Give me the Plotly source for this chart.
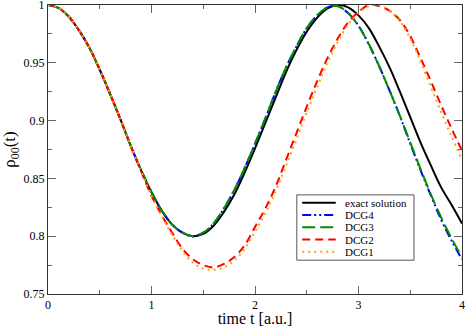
import plotly.graph_objects as go

t = [round(0.1 * i, 1) for i in range(41)]

exact = [1.000, 0.9975, 0.990, 0.978, 0.963, 0.944, 0.923, 0.901, 0.878, 0.857,
         0.838, 0.822, 0.810, 0.803, 0.800, 0.802, 0.809, 0.821, 0.836, 0.855,
         0.876, 0.898, 0.920, 0.942, 0.961, 0.977, 0.989, 0.997, 1.000, 0.998,
         0.991, 0.980, 0.964, 0.946, 0.925, 0.903, 0.881, 0.861, 0.842, 0.827,
         0.811]

dcg4 = [1.000, 0.9975, 0.990, 0.978, 0.963, 0.944, 0.923, 0.901, 0.878, 0.857,
        0.838, 0.822, 0.810, 0.803, 0.800, 0.803, 0.811, 0.824, 0.840, 0.859,
        0.880, 0.902, 0.925, 0.946, 0.964, 0.980, 0.991, 0.998, 0.999, 0.993,
        0.982, 0.966, 0.947, 0.926, 0.904, 0.880, 0.857, 0.835, 0.814, 0.796,
        0.780]

dcg3 = [1.000, 0.9975, 0.990, 0.978, 0.963, 0.944, 0.923, 0.901, 0.878, 0.857,
        0.838, 0.822, 0.810, 0.803, 0.800, 0.803, 0.811, 0.824, 0.840, 0.859,
        0.880, 0.902, 0.925, 0.946, 0.964, 0.980, 0.991, 0.998, 0.999, 0.993,
        0.982, 0.966, 0.947, 0.926, 0.904, 0.881, 0.858, 0.836, 0.816, 0.798,
        0.782]

dcg2 = [1.000, 0.9975, 0.990, 0.978, 0.963, 0.944, 0.923, 0.901, 0.878, 0.856,
        0.835, 0.818, 0.803, 0.789, 0.780, 0.775, 0.773, 0.776, 0.782, 0.792,
        0.808, 0.824, 0.843, 0.866, 0.889, 0.912, 0.934, 0.954, 0.971, 0.985,
        0.994, 1.000, 0.999, 0.995, 0.987, 0.973, 0.954, 0.934, 0.913, 0.893,
        0.874]

dcg1 = [1.000, 0.9975, 0.990, 0.978, 0.963, 0.944, 0.923, 0.901, 0.878, 0.856,
        0.835, 0.817, 0.801, 0.787, 0.777, 0.772, 0.771, 0.773, 0.779, 0.789,
        0.804, 0.820, 0.839, 0.861, 0.884, 0.907, 0.929, 0.950, 0.968, 0.983,
        0.993, 0.999, 1.000, 0.995, 0.986, 0.971, 0.951, 0.929, 0.907, 0.886,
        0.866]

x_ticks = [0, 1, 2, 3, 4]
y_ticks = [0.75, 0.8, 0.85, 0.9, 0.95, 1.0]
y_ticktext = ["0.75", "0.8", "0.85", "0.9", "0.95", "1"]

names = ["exact solution", "DCG4", "DCG3", "DCG2", "DCG1"]
series = [exact, dcg4, dcg3, dcg2, dcg1]
colors = ["#000000", "#0000ff", "#008c00", "#ff0000", "#ffa500"]
dashes = ["solid", "9px,3px,2px,3px,2px,3px", "13px,5px", "8px,5px", "2px,4px"]

FONT = "Liberation Serif, Times New Roman, serif"

fig = go.Figure()
for name, y, c, d in zip(names, series, colors, dashes):
    fig.add_trace(go.Scatter(x=t, y=y, mode="lines", name=name,
                             line=dict(color=c, width=2, dash=d, shape="spline"),
                             showlegend=False))

# legend drawn by hand (xmgrace style, tight rows)
x0, x1 = 0.601, 0.884
ytop, ybot = 0.343, 0.117
fig.add_shape(type="rect", xref="paper", yref="paper", x0=x0, x1=x1, y0=ybot, y1=ytop,
              line=dict(color="#555555", width=1), fillcolor="white", layer="above")
for i, (name, c, d) in enumerate(zip(names, colors, dashes)):
    yy = 0.316 - i * 0.0425
    fig.add_shape(type="line", xref="paper", yref="paper", x0=0.614, x1=0.695, y0=yy, y1=yy,
                  line=dict(color=c, width=2, dash=d), layer="above")
    fig.add_annotation(xref="paper", yref="paper", x=0.712, y=yy, text=name,
                       showarrow=False, xanchor="left", yanchor="middle",
                       font=dict(family=FONT, size=11, color="black"))

axis_common = dict(showline=True, linecolor="#333333", linewidth=1, mirror="ticks",
                   ticks="inside", ticklen=8, tickcolor="#666666", tickwidth=1,
                   showgrid=False, zeroline=False, automargin=False,
                   ticklabeloverflow="allow",
                   tickfont=dict(family=FONT, size=12, color="black"))

fig.update_xaxes(range=[0, 4], tickvals=x_ticks,
                 minor=dict(dtick=0.5, tick0=0, ticks="inside", ticklen=4, tickcolor="#666666"),
                 title=dict(text="time t [a.u.]", font=dict(family=FONT, size=16, color="black"),
                            standoff=0),
                 **axis_common)
fig.update_yaxes(range=[0.75, 1], tickvals=y_ticks, ticktext=y_ticktext,
                 minor=dict(dtick=0.025, tick0=0.75, ticks="inside", ticklen=4, tickcolor="#666666"),
                 title=dict(text="ρ<sub>00</sub>(t)", font=dict(family=FONT, size=17, color="black"),
                            standoff=4),
                 **axis_common)

fig.update_layout(width=467, height=327,
                  margin=dict(l=48, r=5, t=5, b=33),
                  plot_bgcolor="white", paper_bgcolor="white",
                  showlegend=False)

fig.write_html("out.html", config={"displayModeBar": False},
               post_script="document.body.style.margin='0';")
